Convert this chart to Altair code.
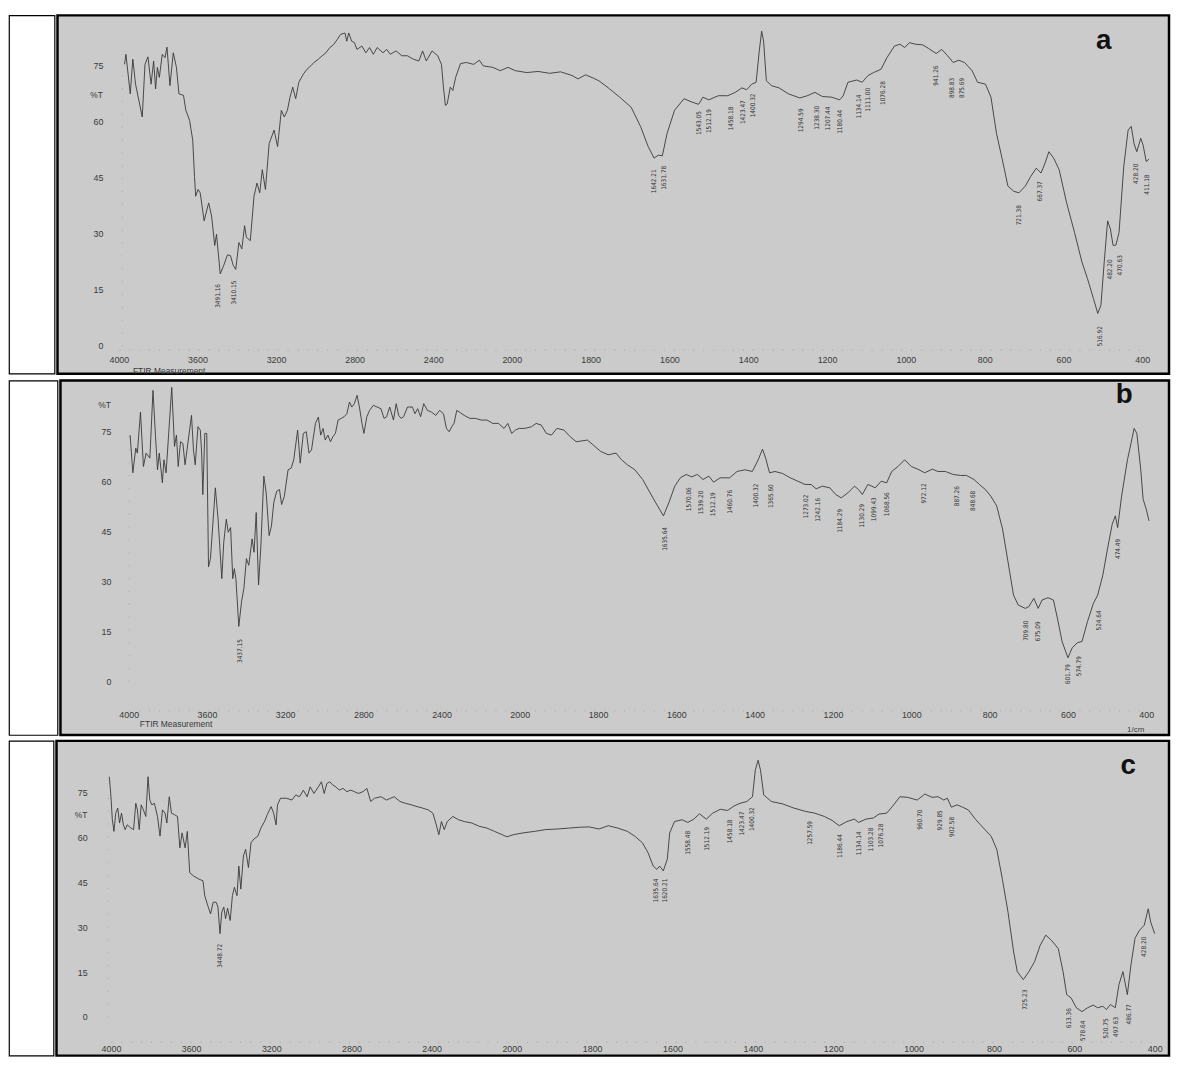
import altair as alt
import pandas as pd

# ---------------- shared tick values ----------------
X_TICKS = [4000, 3600, 3200, 2800, 2400, 2000, 1800, 1600, 1400, 1200, 1000, 800, 600, 400]
Y_TICKS = [0, 15, 30, 45, 60, 75]
X_BREAKS = [4000, 2000, 400]   # instrument scale changes at 2000 1/cm

# ---------------- panel a: (wavenumber, %T) ----------------
A_SPECTRUM = [
    (3971, 75.4), (3964, 78.1), (3942, 67.5), (3929, 76.8), (3915, 70.1), (3881, 61.3), (3867, 75.4),
    (3852, 77.4), (3836, 70.1), (3823, 76.3), (3813, 68.8), (3804, 74.6), (3794, 71.9), (3779, 78.1),
    (3765, 77.2), (3755, 80.0), (3740, 69.7), (3723, 78.5), (3707, 74.6), (3694, 67.5), (3671, 67.1),
    (3659, 63.1), (3640, 60.4), (3624, 55.1), (3615, 45.4), (3609, 40.1), (3597, 41.9), (3586, 41.0),
    (3566, 33.5), (3543, 38.3), (3528, 34.8), (3512, 26.9), (3503, 29.9), (3484, 19.3), (3466, 21.6),
    (3447, 24.4), (3432, 24.2), (3418, 21.6), (3405, 20.5), (3389, 27.7), (3374, 26.0), (3360, 32.2),
    (3351, 29.1), (3331, 28.2), (3312, 40.1), (3297, 43.6), (3283, 41.0), (3270, 47.2), (3254, 41.9),
    (3235, 54.2), (3210, 57.8), (3192, 53.4), (3173, 63.1), (3158, 61.3), (3142, 63.1), (3129, 66.6),
    (3115, 69.3), (3100, 66.2), (3084, 70.6), (3061, 72.8), (3042, 74.1), (3023, 75.0), (3007, 75.9),
    (2984, 76.8), (2965, 77.7), (2946, 78.5), (2926, 79.9), (2907, 80.7), (2888, 82.1), (2872, 83.4),
    (2849, 83.8), (2840, 81.6), (2830, 83.8), (2815, 81.6), (2801, 81.2), (2788, 79.4), (2763, 80.3),
    (2743, 78.5), (2724, 79.9), (2705, 78.1), (2685, 79.9), (2656, 78.5), (2637, 79.4), (2618, 78.1),
    (2589, 79.0), (2560, 77.7), (2531, 77.7), (2502, 76.8), (2473, 76.3), (2454, 79.0), (2435, 76.3),
    (2406, 79.0), (2377, 77.7), (2358, 75.4), (2348, 69.3), (2338, 64.4), (2329, 64.8), (2313, 69.3),
    (2300, 68.4), (2286, 71.9), (2261, 75.6), (2232, 75.9), (2194, 75.4), (2165, 76.5), (2146, 75.0),
    (2097, 74.6), (2059, 73.7), (2020, 74.6), (1991, 73.7), (1962, 73.2), (1933, 73.5), (1904, 73.0),
    (1876, 73.4), (1847, 72.4), (1832, 71.5), (1813, 72.6), (1793, 71.7), (1779, 71.0), (1755, 69.1),
    (1726, 66.6), (1697, 63.9), (1673, 58.7), (1654, 53.4), (1639, 50.3), (1628, 51.1), (1618, 50.9),
    (1606, 56.9), (1587, 63.1), (1563, 66.2), (1543, 65.3), (1526, 64.7), (1515, 66.6), (1500, 65.9),
    (1476, 67.0), (1452, 67.0), (1433, 67.9), (1416, 69.1), (1404, 68.6), (1391, 70.1), (1380, 70.6),
    (1372, 79.0), (1366, 84.3), (1361, 81.6), (1354, 71.0), (1341, 69.7), (1322, 69.1), (1298, 67.5),
    (1269, 66.4), (1250, 67.0), (1231, 67.9), (1212, 66.8), (1188, 66.6), (1168, 65.9), (1159, 67.0),
    (1147, 70.6), (1125, 71.2), (1111, 70.6), (1096, 72.4), (1082, 73.2), (1063, 74.1), (1048, 77.2),
    (1029, 80.3), (1015, 80.8), (1003, 79.9), (991, 81.2), (976, 80.8), (957, 80.6), (943, 79.7),
    (923, 78.3), (909, 79.4), (894, 77.7), (880, 75.9), (866, 76.5), (851, 75.9), (832, 73.7),
    (818, 70.6), (798, 70.1), (784, 66.6), (770, 56.9), (755, 49.8), (741, 42.8), (726, 41.4),
    (713, 41.0), (697, 42.8), (683, 45.4), (669, 47.6), (657, 46.3), (647, 48.9), (637, 52.0),
    (625, 50.3), (611, 47.2), (592, 38.3), (572, 30.4), (553, 22.4), (539, 18.0), (524, 12.7),
    (513, 8.7), (505, 10.9), (496, 23.3), (488, 33.5), (481, 31.3), (474, 26.9), (467, 27.0),
    (459, 30.4), (447, 48.1), (436, 57.8), (428, 58.8), (421, 54.2), (414, 52.0), (404, 55.6),
    (398, 53.8), (390, 49.4), (383, 50.0),
]
# (label, wavenumber position, %T position)
A_PEAKS = [
    ("3491.16", 3493, 13.4), ("3410.15", 3412, 14.3), ("1642.21", 1639, 44.1), ("1631.78", 1613, 45.0),
    ("1543.05", 1526, 59.7), ("1512.19", 1500, 60.2), ("1458.18", 1444, 60.9), ("1423.47", 1412, 62.6),
    ("1400.32", 1388, 64.4), ("1294.59", 1267, 60.4), ("1238.30", 1226, 61.1), ("1207.44", 1197, 60.9),
    ("1180.44", 1168, 60.0), ("1134.14", 1120, 64.1), ("1111.00", 1095, 65.9), ("1076.28", 1058, 67.7),
    ("941.26", 923, 72.4), ("898.83", 882, 69.1), ("875.69", 857, 69.1), ("721.38", 713, 35.0),
    ("667.37", 659, 41.4), ("516.92", 507, 2.6), ("482.20", 481, 20.5), ("470.63", 457, 21.6),
    ("428.20", 417, 46.1), ("411.18", 388, 43.2),
]

# ---------------- panel b ----------------
B_SPECTRUM = [
    (3993, 73.8), (3979, 62.5), (3964, 69.9), (3956, 68.4), (3940, 80.7), (3925, 64.4), (3911, 68.4),
    (3892, 66.9), (3876, 87.2), (3863, 73.3), (3853, 63.4), (3844, 68.4), (3828, 59.5), (3820, 66.4),
    (3809, 62.5), (3780, 88.1), (3766, 70.4), (3756, 73.8), (3747, 64.4), (3735, 71.8), (3723, 71.3),
    (3712, 64.9), (3679, 79.7), (3669, 69.4), (3660, 64.9), (3646, 76.3), (3634, 75.3), (3627, 68.4),
    (3621, 56.0), (3611, 74.3), (3601, 74.3), (3592, 34.3), (3582, 36.8), (3557, 58.0), (3543, 48.6),
    (3524, 30.8), (3514, 41.7), (3501, 48.6), (3491, 44.7), (3479, 46.1), (3468, 30.8), (3460, 33.8),
    (3452, 30.8), (3437, 16.5), (3423, 23.9), (3411, 27.9), (3398, 36.8), (3386, 34.8), (3369, 42.7),
    (3359, 38.7), (3348, 50.6), (3336, 28.9), (3324, 40.7), (3309, 61.5), (3297, 56.5), (3282, 43.7),
    (3270, 46.6), (3258, 53.6), (3243, 57.0), (3229, 57.5), (3218, 53.0), (3204, 55.5), (3185, 63.4),
    (3169, 63.9), (3156, 66.4), (3136, 75.3), (3123, 65.4), (3107, 74.3), (3092, 74.8), (3078, 68.4),
    (3065, 69.4), (3045, 77.3), (3030, 79.2), (3018, 73.8), (3006, 75.8), (2995, 72.3), (2981, 73.8),
    (2968, 71.8), (2956, 73.3), (2943, 74.3), (2929, 78.3), (2913, 78.8), (2898, 79.3), (2884, 80.2),
    (2871, 83.7), (2859, 82.2), (2846, 83.2), (2832, 85.7), (2820, 82.2), (2807, 77.3), (2797, 74.3),
    (2782, 79.3), (2768, 81.2), (2749, 82.7), (2729, 82.2), (2710, 81.7), (2694, 78.8), (2681, 79.3),
    (2665, 82.2), (2646, 78.3), (2632, 83.2), (2619, 79.7), (2607, 78.8), (2594, 79.3), (2574, 82.2),
    (2549, 82.2), (2536, 80.2), (2522, 81.7), (2507, 79.3), (2491, 83.2), (2472, 81.2), (2452, 80.7),
    (2429, 79.7), (2410, 81.2), (2390, 80.2), (2375, 75.8), (2361, 74.8), (2348, 76.3), (2336, 77.3),
    (2322, 81.2), (2309, 80.7), (2284, 79.7), (2255, 78.8), (2226, 78.8), (2197, 78.3), (2167, 78.3),
    (2138, 77.3), (2109, 77.3), (2080, 75.8), (2061, 77.3), (2041, 74.3), (2022, 75.3), (2003, 75.8),
    (1987, 75.8), (1970, 76.3), (1958, 77.3), (1945, 76.8), (1932, 74.3), (1919, 73.8), (1905, 75.8),
    (1887, 75.3), (1871, 73.3), (1856, 71.8), (1827, 72.3), (1812, 70.8), (1793, 68.9), (1774, 67.9),
    (1754, 68.4), (1740, 66.4), (1725, 64.9), (1706, 63.4), (1686, 60.5), (1667, 56.5), (1648, 52.6),
    (1633, 49.6), (1619, 53.6), (1604, 58.5), (1590, 61.0), (1575, 62.0), (1561, 61.3), (1546, 62.0),
    (1532, 60.5), (1517, 61.5), (1505, 59.7), (1488, 61.0), (1464, 61.0), (1445, 62.9), (1425, 63.4),
    (1406, 62.9), (1391, 66.4), (1380, 69.6), (1372, 66.9), (1362, 62.5), (1348, 62.9), (1329, 62.3),
    (1309, 61.0), (1290, 60.0), (1271, 59.0), (1256, 59.0), (1243, 57.7), (1227, 58.5), (1208, 58.0),
    (1193, 56.0), (1179, 55.0), (1162, 56.5), (1145, 58.5), (1135, 57.5), (1125, 56.0), (1111, 59.0),
    (1101, 58.5), (1092, 58.0), (1077, 60.0), (1063, 59.5), (1050, 62.9), (1034, 64.4), (1017, 66.4),
    (1000, 64.4), (980, 63.4), (966, 62.5), (946, 63.6), (932, 62.9), (913, 62.9), (893, 62.0),
    (874, 61.7), (859, 61.7), (840, 60.5), (826, 59.0), (811, 57.5), (797, 55.5), (782, 52.6),
    (767, 45.7), (753, 35.8), (739, 25.9), (727, 22.9), (709, 21.9), (700, 22.4), (687, 24.9),
    (676, 21.9), (666, 24.4), (651, 25.1), (637, 24.4), (627, 19.0), (615, 12.0), (600, 7.1),
    (589, 10.1), (576, 11.6), (564, 12.0), (550, 18.0), (535, 23.4), (524, 25.9), (511, 31.8),
    (499, 39.7), (487, 47.1), (479, 49.6), (473, 46.1), (463, 55.5), (448, 66.4), (439, 71.3),
    (431, 75.8), (424, 74.3), (414, 63.4), (408, 54.6), (400, 51.6), (393, 48.1),
]
B_PEAKS = [
    ("3437.15", 3433, 9.1), ("1635.64", 1630, 42.7), ("1570.06", 1567, 54.6), ("1539.20", 1536, 53.6),
    ("1512.19", 1507, 53.1), ("1460.76", 1464, 53.8), ("1400.32", 1396, 55.7), ("1365.60", 1358, 55.5),
    ("1273.02", 1270, 52.4), ("1242.16", 1239, 51.4), ("1184.29", 1181, 48.1), ("1130.29", 1125, 49.6),
    ("1099.43", 1094, 51.6), ("1068.56", 1062, 53.1), ("972.12", 968, 56.3), ("887.26", 883, 55.5),
    ("848.68", 842, 54.1), ("709.80", 707, 15.2), ("675.09", 676, 15.0), ("601.79", 600, 2.2),
    ("574.79", 572, 4.6), ("524.64", 521, 18.3), ("474.49", 472, 39.7),
]

# ---------------- panel c ----------------
C_SPECTRUM = [
    (4008, 80.4), (4000, 73.7), (3993, 66.0), (3985, 62.1), (3976, 68.2), (3966, 69.9), (3957, 64.9),
    (3947, 68.2), (3938, 64.3), (3929, 62.7), (3919, 64.3), (3910, 63.8), (3900, 63.2), (3887, 62.7),
    (3876, 71.5), (3868, 69.3), (3859, 62.7), (3849, 71.0), (3838, 69.3), (3826, 67.1), (3815, 80.4),
    (3806, 72.6), (3796, 71.0), (3783, 71.5), (3768, 67.1), (3755, 60.5), (3743, 69.3), (3730, 68.2),
    (3721, 64.9), (3709, 73.7), (3698, 68.2), (3683, 67.7), (3668, 67.1), (3656, 56.6), (3645, 61.6),
    (3630, 56.6), (3619, 62.1), (3607, 48.3), (3588, 47.2), (3560, 46.1), (3541, 45.6), (3532, 40.6),
    (3517, 37.3), (3503, 34.5), (3490, 38.4), (3475, 38.4), (3466, 36.8), (3456, 27.9), (3447, 35.1),
    (3437, 36.8), (3428, 32.9), (3418, 36.4), (3405, 32.3), (3394, 40.6), (3384, 43.4), (3371, 40.6),
    (3362, 50.5), (3352, 42.8), (3339, 53.9), (3328, 56.1), (3314, 50.0), (3301, 58.3), (3286, 59.6),
    (3267, 60.5), (3252, 63.2), (3233, 65.5), (3220, 67.7), (3201, 70.4), (3188, 68.2), (3176, 64.3),
    (3169, 71.0), (3154, 73.2), (3125, 73.2), (3097, 72.6), (3078, 74.3), (3059, 73.7), (3040, 75.9),
    (3021, 73.7), (3006, 77.0), (2987, 74.8), (2965, 77.0), (2950, 78.7), (2936, 74.8), (2923, 78.1),
    (2908, 78.7), (2893, 77.6), (2878, 77.0), (2861, 75.9), (2842, 76.5), (2823, 75.4), (2804, 75.9),
    (2785, 75.4), (2766, 74.8), (2742, 75.4), (2723, 76.5), (2704, 72.1), (2685, 73.2), (2653, 73.7),
    (2625, 72.6), (2587, 73.7), (2558, 72.1), (2530, 71.5), (2502, 71.0), (2473, 70.4), (2445, 69.9),
    (2417, 69.3), (2394, 68.2), (2379, 64.9), (2364, 61.0), (2351, 65.4), (2337, 62.7), (2322, 65.4),
    (2294, 67.1), (2266, 66.0), (2237, 65.4), (2199, 64.9), (2162, 63.8), (2124, 63.2), (2086, 62.1),
    (2048, 61.0), (2024, 60.3), (1996, 61.0), (1972, 61.6), (1944, 62.1), (1916, 62.7), (1887, 62.9),
    (1859, 63.2), (1831, 63.5), (1807, 63.6), (1783, 62.9), (1760, 64.0), (1736, 63.2), (1712, 62.1),
    (1694, 60.5), (1675, 58.3), (1661, 55.0), (1648, 50.5), (1639, 49.4), (1632, 50.5), (1623, 48.9),
    (1613, 52.8), (1607, 61.6), (1595, 65.4), (1576, 66.0), (1562, 65.1), (1547, 66.2), (1533, 68.0),
    (1516, 66.2), (1500, 68.2), (1481, 69.5), (1463, 69.1), (1447, 70.6), (1432, 71.5), (1415, 72.1),
    (1401, 73.7), (1394, 82.6), (1387, 85.9), (1381, 82.6), (1373, 74.3), (1354, 72.1), (1326, 71.3),
    (1298, 69.9), (1269, 68.8), (1246, 68.2), (1222, 67.1), (1203, 65.8), (1185, 64.0), (1166, 65.4),
    (1147, 66.2), (1137, 65.1), (1119, 66.2), (1100, 66.6), (1086, 67.9), (1067, 68.2), (1053, 70.4),
    (1034, 73.7), (1015, 73.5), (991, 72.6), (972, 74.6), (954, 73.5), (939, 73.7), (925, 72.6),
    (916, 73.2), (906, 70.2), (892, 71.0), (878, 70.2), (864, 69.3), (845, 66.0), (826, 63.2),
    (807, 60.5), (793, 56.1), (779, 46.1), (765, 35.1), (751, 21.8), (742, 15.2), (727, 12.5),
    (713, 15.2), (699, 18.5), (685, 24.0), (671, 27.4), (657, 25.7), (640, 22.9), (628, 15.2),
    (619, 7.5), (608, 6.4), (595, 3.1), (581, 1.8), (567, 3.1), (553, 4.0), (542, 3.1),
    (529, 3.6), (520, 2.5), (510, 4.2), (498, 3.1), (489, 10.8), (479, 15.2), (468, 7.5),
    (459, 17.4), (449, 26.3), (438, 29.0), (426, 30.7), (416, 36.2), (410, 31.8), (400, 27.9),
]
C_PEAKS = [
    ("3448.72", 3454, 20.5), ("1635.64", 1642, 42.3), ("1620.21", 1618, 42.3), ("1558.48", 1562, 58.3),
    ("1512.19", 1513, 59.6), ("1458.18", 1458, 62.1), ("1423.47", 1428, 64.7), ("1400.32", 1403, 66.2),
    ("1257.59", 1258, 61.6), ("1186.44", 1183, 57.2), ("1134.14", 1136, 58.1), ("1103.28", 1107, 59.4),
    ("1076.28", 1081, 60.7), ("960.70", 984, 66.0), ("929.85", 933, 65.8), ("902.58", 904, 63.6),
    ("725.23", 723, 5.8), ("613.36", 612, -0.4), ("578.64", 578, -4.6), ("520.75", 522, -3.8),
    ("497.63", 496, -3.3), ("486.77", 463, 0.9), ("428.20", 426, 23.5),
]

# ---------------- annotations (text, wavenumber, %T, align) ----------------
A_NOTES = [("%T", 4081, 67.1, "right"), ("FTIR Measurement", 3744, -6.6, "center")]
B_NOTES = [("%T", 4091, 82.7, "right"), ("FTIR Measurement", 3758, -12.6, "center")]
C_NOTES = [("%T", 4118, 67.6, "right")]
LETTERS = {"a": (498, 81.6), "b": (456, 85.7), "c": (466, 84.1)}

FONT = "Liberation Sans"
NARROW = "Liberation Sans Narrow, DejaVu Sans Condensed, sans-serif"
PANEL_FILL = "#cbcbcb"
TEXT_COL = "#3a3a3a"


def panel(spectrum, peaks, notes, letter, width, height, xrange_, yrange_,
          yaxis_at, ylab_pad, xaxis_at, xlab_pad, unit_note=None):
    spec_df = pd.DataFrame(spectrum, columns=["wn", "T"])
    peak_df = pd.DataFrame(peaks, columns=["label", "wn", "T"])
    note_df = pd.DataFrame(notes, columns=["label", "wn", "T", "al"])
    lx, ly = LETTERS[letter]
    letter_df = pd.DataFrame({"label": [letter], "wn": [lx], "T": [ly]})

    xs = alt.Scale(domain=X_BREAKS, range=xrange_, nice=False, zero=False)
    ys = alt.Scale(domain=[0, 75], range=yrange_, nice=False, zero=False)
    xax = alt.Axis(values=X_TICKS, format="d", title=None, orient="bottom",
                   offset=-(height - xaxis_at), ticks=False, grid=False,
                   domain=True, domainColor="#a4a4a4", domainDash=[1, 9], domainWidth=1,
                   labelFont=FONT, labelFontSize=9, labelColor=TEXT_COL,
                   labelPadding=xlab_pad, labelFlush=False, labelOverlap=False)
    yax = alt.Axis(values=Y_TICKS, format="d", title=None, orient="left",
                   offset=-yaxis_at, ticks=False, grid=False,
                   domain=True, domainColor="#a9a9a9", domainDash=[1, 12], domainWidth=1,
                   labelFont=FONT, labelFontSize=9, labelColor=TEXT_COL,
                   labelPadding=ylab_pad, labelFlush=False, labelOverlap=False)
    x = alt.X("wn:Q", scale=xs, axis=xax)
    y = alt.Y("T:Q", scale=ys, axis=yax)

    line = alt.Chart(spec_df).mark_line(color="#383838", strokeWidth=0.9).encode(x=x, y=y)
    pk = alt.Chart(peak_df).mark_text(angle=270, font=NARROW, fontSize=6.5,
                                      color="#333333").encode(x=x, y=y, text="label:N")
    layers = [line, pk]
    for al in ["right", "center"]:
        sub = note_df[note_df["al"] == al]
        if len(sub):
            layers.append(alt.Chart(sub).mark_text(align=al, baseline="middle", font=FONT,
                                                   fontSize=8.5, color=TEXT_COL)
                          .encode(x=x, y=y, text="label:N"))
    layers.append(alt.Chart(letter_df).mark_text(font=FONT, fontSize=28, fontWeight="bold",
                                                 color="#111111")
                  .encode(x=x, y=y, text="label:N"))
    if unit_note is not None:
        u_df = pd.DataFrame([unit_note], columns=["label", "wn", "T"])
        layers.append(alt.Chart(u_df).mark_text(baseline="bottom", font=FONT, fontSize=8,
                                                color=TEXT_COL).encode(x=x, y=y, text="label:N"))
    return alt.layer(*layers).properties(
        width=width, height=height,
        view=alt.ViewBackground(fill=PANEL_FILL, stroke="#000000", strokeWidth=2.5),
    )


def cell(width, height):
    # empty white table cell on the left of each panel
    return alt.Chart(pd.DataFrame({"v": [0]})).mark_point(opacity=0, size=1).encode(
        x=alt.value(width / 2), y=alt.value(height / 2)
    ).properties(width=width, height=height,
                 view=alt.ViewBackground(fill="white", stroke="#000000", strokeWidth=1.2))


pa = panel(A_SPECTRUM, A_PEAKS, A_NOTES, "a", 1123, 362, [62, 459, 1096], [334, 51],
           65, 19, 337.7, 6)
pb = panel(B_SPECTRUM, B_PEAKS, B_NOTES, "b", 1120, 358, [69, 464, 1097], [304, 51],
           69, 18, 333, 0, unit_note=("1/cm", 427, -15.7))
pc = panel(C_SPECTRUM, C_PEAKS, C_NOTES, "c", 1124, 318, [55, 460, 1109.5], [279, 52.5],
           52, 21, 304, 3)

row_a = alt.hconcat(cell(46, 362), pa, spacing=0)
row_b = alt.hconcat(cell(49, 358), pb, spacing=0)
row_c = alt.hconcat(cell(45, 318), pc, spacing=0)

chart = alt.vconcat(row_a, row_b, row_c, spacing=2).properties(
    padding={"left": 0, "top": 0, "right": 0, "bottom": 0},
    background="white",
).configure_view(stroke=None)

chart.save("out.html", embed_options={"renderer": "svg", "actions": False})
